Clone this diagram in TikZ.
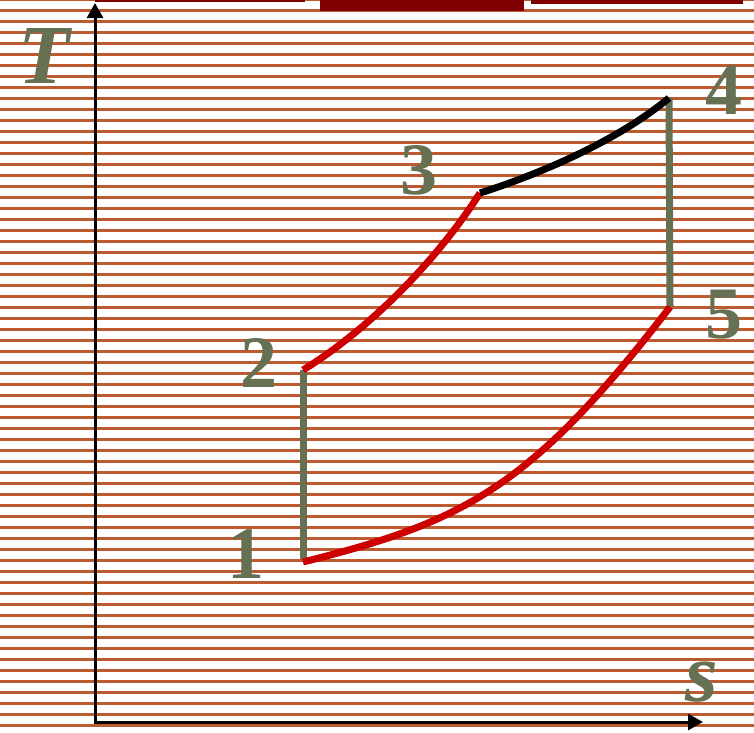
\documentclass[tikz,border=0pt]{standalone}
\usepackage{fontspec}
\setmainfont{Liberation Serif}
\usepackage{tikz}
\usetikzlibrary{arrows.meta}
\usepackage{xcolor}
\definecolor{rust}{HTML}{BE5A30}
\definecolor{sage}{HTML}{667052}
\definecolor{brick}{HTML}{CC0000}
\definecolor{maroon}{HTML}{800000}

\tikzset{
  stripe/.style={draw=rust, line width=2.3pt},
  axisline/.style={draw=black, line width=3pt, -{Triangle[length=15pt,width=16pt]}},
  isentrope/.style={draw=sage, line width=7pt},
  heatline/.style={draw=brick, line width=7pt},
  workline/.style={draw=black, line width=7pt},
  statelbl/.style={text=sage, inner sep=0pt, font=\fontsize{74}{74}\selectfont\bfseries},
  axislbl/.style={text=sage, inner sep=0pt, font=\fontsize{84}{84}\selectfont\bfseries\itshape}
}

\begin{document}
\begin{tikzpicture}[x=1pt, y=-1pt]
\useasboundingbox (0,0) rectangle (754,732);
\fill[white] (0,0) rectangle (754,732);
\foreach \k in {-1,...,65}
  \draw[stripe] (0,10.5+11*\k) -- (754,10.5+11*\k);
\fill[maroon] (95,0) rectangle (305,1.8);
\fill[maroon] (320,0) rectangle (524,10.5);
\fill[maroon] (531,0) rectangle (743,3.5);

\coordinate (o) at (95,722);
\coordinate (ytop) at (95,3);
\coordinate (xend) at (703,722);
\coordinate (p1) at (303,562);
\coordinate (p2) at (303,370);
\coordinate (p3) at (480,193);
\coordinate (p4) at (669,98);
\coordinate (p5) at (670,307);

\draw[isentrope] (303,559) -- (p2);
\draw[isentrope] (p4) -- (p5);
\draw[heatline] (p2) .. controls (368,330) and (435,263) .. (p3);
\draw[workline] (p3) .. controls (540,174) and (618,140.5) .. (p4);
\draw[heatline] (p5) .. controls (530,489) and (463,522) .. (p1);

\draw[axisline] (95,723.5) -- (ytop);
\draw[axisline] (93.5,722) -- (xend);

\node[axislbl] (tlbl) at (44,56) {T};
\node[axislbl] (slbl) at (702,682) {s};
\node[statelbl] (n1) at (246,554) {1};
\node[statelbl] (n2) at (259,363) {2};
\node[statelbl] (n3) at (419,170) {3};
\node[statelbl] (n4) at (724,90) {4};
\node[statelbl] (n5) at (724,315) {5};
\end{tikzpicture}
\end{document}
